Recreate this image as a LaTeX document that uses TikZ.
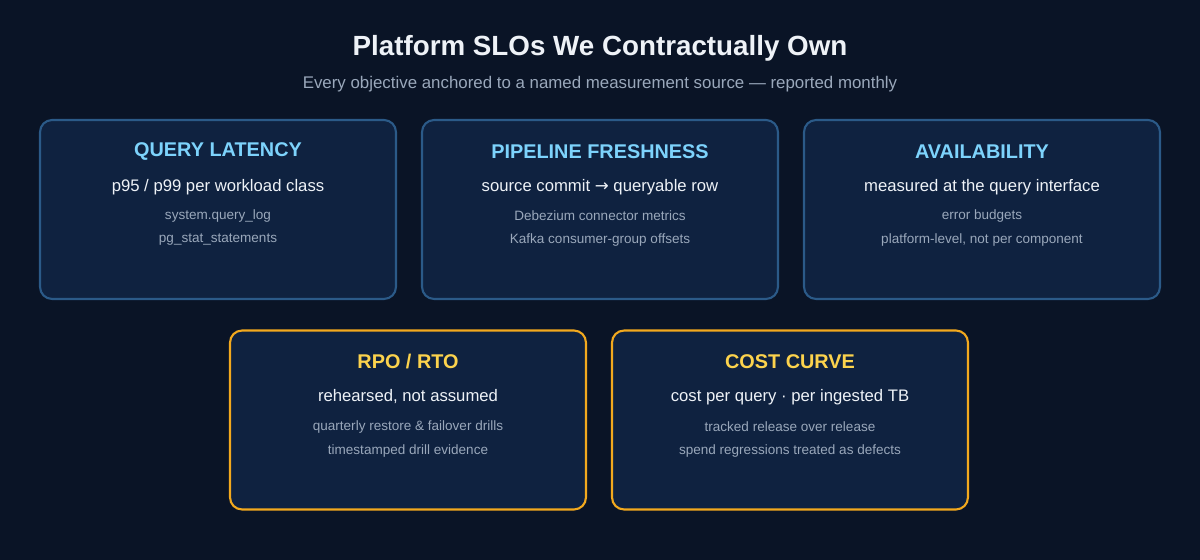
\documentclass[tikz,border=0pt]{standalone}
\usepackage{fontspec}
\setmainfont{Liberation Sans}
\newfontfamily\arrowfont{DejaVu Sans}
\usetikzlibrary{positioning}
\definecolor{BgClr}{HTML}{0A1426}
\definecolor{CardClr}{HTML}{0F2240}
\definecolor{BlueEdge}{HTML}{2B5A88}
\definecolor{GoldEdge}{HTML}{F2A91E}
\definecolor{BlueHead}{HTML}{7DD3FC}
\definecolor{GoldHead}{HTML}{FCD34D}
\definecolor{SubClr}{HTML}{EEF2F7}
\definecolor{NoteClr}{HTML}{9AA8BB}

\tikzset{
  card/.style={draw=BlueEdge,fill=CardClr,line width=1.2pt,rounded corners=0.24cm,
    minimum width=7.12cm,minimum height=3.58cm,inner sep=0pt},
  gold/.style={card,draw=GoldEdge},
  head/.style={font=\fontsize{11.3}{13}\selectfont\bfseries,text=BlueHead},
  sub/.style={font=\fontsize{9.5}{11}\selectfont,text=SubClr},
  note/.style={font=\fontsize{7.7}{9}\selectfont,text=NoteClr}
}

\begin{document}
\begin{tikzpicture}[x=0.02cm,y=-0.02cm]
\fill[BgClr] (0,0) rectangle (1200,560);
\useasboundingbox (0,0) rectangle (1200,560);

\node[font=\fontsize{15.8}{18}\selectfont\bfseries,text=SubClr] (title) at (600,48) {Platform SLOs We Contractually Own};
\node[font=\fontsize{9.6}{11}\selectfont,text=NoteClr] (subtitle) at (600,84) {Every objective anchored to a named measurement source — reported monthly};

% top row
\node[card] (lat) at (218,209.5) {};
\node[head] at (218,152) {QUERY LATENCY};
\node[sub] at (218,187) {p95 / p99 per workload class};
\node[note] at (218,216) {system.query\_log};
\node[note] at (218,240) {pg\_stat\_statements};

\node[card] (fresh) at (600,209.5) {};
\node[head] at (600,152) {PIPELINE FRESHNESS};
\node[sub] at (600,187) {source commit {\arrowfont →} queryable row};
\node[note] at (600,216) {Debezium connector metrics};
\node[note] at (600,240) {Kafka consumer-group offsets};

\node[card] (avail) at (982,209.5) {};
\node[head] at (982,152) {AVAILABILITY};
\node[sub] at (982,187) {measured at the query interface};
\node[note] at (982,216) {error budgets};
\node[note] at (982,240) {platform-level, not per component};

% bottom row
\node[gold] (rpo) at (408,420) {};
\node[head,text=GoldHead] at (408,362) {RPO / RTO};
\node[sub] at (408,397) {rehearsed, not assumed};
\node[note] at (408,427) {quarterly restore \& failover drills};
\node[note] at (408,451) {timestamped drill evidence};

\node[gold] (cost) at (790,420) {};
\node[head,text=GoldHead] at (790,362) {COST CURVE};
\node[sub] at (790,397) {cost per query · per ingested TB};
\node[note] at (790,427) {tracked release over release};
\node[note] at (790,451) {spend regressions treated as defects};
\end{tikzpicture}
\end{document}
